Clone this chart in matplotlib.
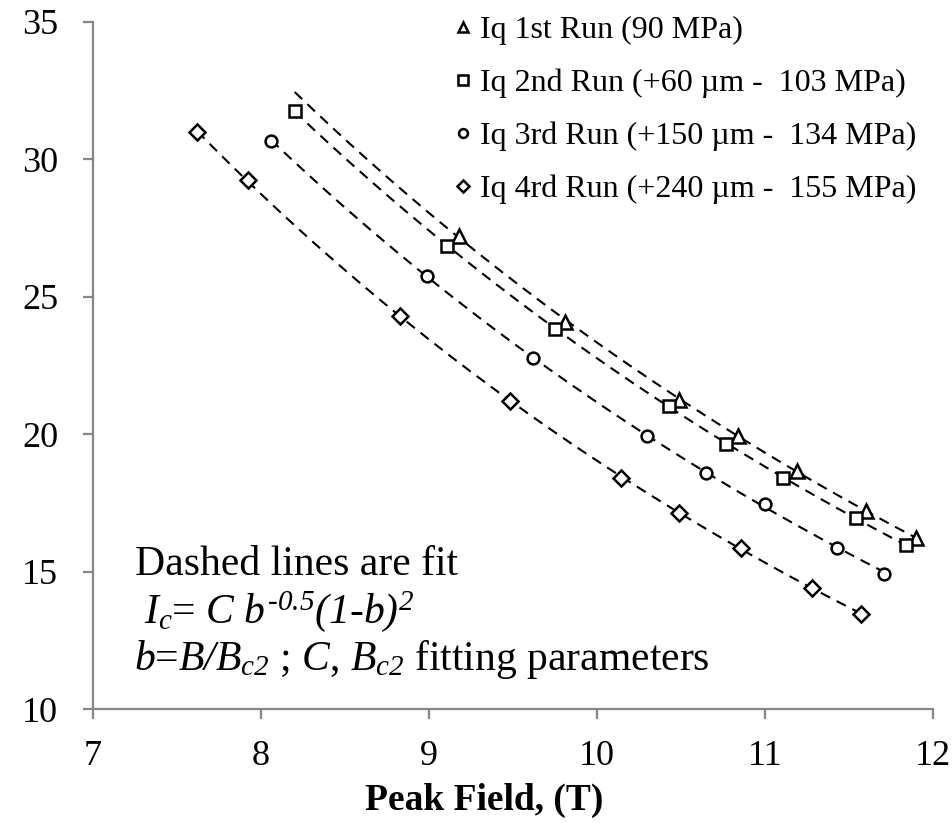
import numpy as np
import matplotlib
matplotlib.use("Agg")
import matplotlib.pyplot as plt

plt.rcParams['font.family'] = ['Liberation Serif', 'DejaVu Serif']
plt.rcParams['mathtext.fontset'] = 'custom'
plt.rcParams['mathtext.rm'] = 'Liberation Serif:italic'
plt.rcParams['mathtext.it'] = 'Liberation Serif:italic'

# peak field (T) and quench current for each run
b_run1 = [9.18, 9.81, 10.49, 10.84, 11.19, 11.60, 11.90]
i_run1 = [27.2, 24.1, 21.26, 19.93, 18.66, 17.21, 16.24]

b_run2 = [8.20, 9.11, 9.75, 10.43, 10.77, 11.11, 11.54, 11.84]
i_run2 = [31.77, 26.83, 23.83, 21.02, 19.65, 18.41, 16.95, 15.97]

b_run3 = [8.06, 8.99, 9.62, 10.30, 10.65, 11.00, 11.43, 11.71]
i_run3 = [30.68, 25.75, 22.78, 19.93, 18.60, 17.45, 15.87, 14.91]

b_run4 = [7.62, 7.92, 8.83, 9.48, 10.14, 10.49, 10.86, 11.28, 11.57]
i_run4 = [30.99, 29.26, 24.29, 21.20, 18.42, 17.14, 15.87, 14.42, 13.45]

labels = ['Iq 1st Run (90 MPa)',
          'Iq 2nd Run (+60 \u00b5m -  103 MPa)',
          'Iq 3rd Run (+150 \u00b5m -  134 MPa)',
          'Iq 4rd Run (+240 \u00b5m -  155 MPa)']
markers = ['^', 's', 'o', 'D']
msizes = [10, 9, 8.5, 8.5]

# x range over which each fit curve is drawn
fit_from = [8.2, 8.2, 8.06, 7.62]


def fit_ic(B, I):
    # Ic = C b^-0.5 (1-b)^2 , b = B/Bc2
    B = np.asarray(B)
    I = np.asarray(I)
    best = None
    for bc2 in np.linspace(12.5, 35, 4501):
        f = (B / bc2) ** -0.5 * (1 - B / bc2) ** 2
        C = f @ I / (f @ f)
        r = ((I - C * f) ** 2).sum()
        if best is None or r < best[0]:
            best = (r, C, bc2)
    return best[1], best[2]


fig = plt.figure(figsize=(9.53, 8.23), dpi=100)
ax = fig.add_axes([0.0976, 0.1385, 0.8814, 0.8348])

runs = [(b_run1, i_run1), (b_run2, i_run2), (b_run3, i_run3), (b_run4, i_run4)]
handles = []
for k, (B, I) in enumerate(runs):
    C, bc2 = fit_ic(B, I)
    xx = np.linspace(fit_from[k], max(B), 200)
    yy = C * (xx / bc2) ** -0.5 * (1 - xx / bc2) ** 2
    ax.plot(xx, yy, color='black', lw=1.5, dashes=(5, 3.5))
    h, = ax.plot(B, I, linestyle='none', marker=markers[k], ms=msizes[k],
                 mfc='white', mec='black', mew=1.8, label=labels[k])
    handles.append(h)

ax.set_xlim(7, 12)
ax.set_ylim(10, 35)
ax.set_xticks([7, 8, 9, 10, 11, 12])
ax.set_yticks([10, 15, 20, 25, 30, 35])

grey = '#868686'
for s in ['top', 'right']:
    ax.spines[s].set_visible(False)
for s in ['left', 'bottom']:
    ax.spines[s].set_color(grey)
    ax.spines[s].set_linewidth(1.6)
ax.tick_params(axis='both', direction='out', length=7, width=1.6, color=grey,
               labelsize=26)
ax.tick_params(axis='y', pad=18)
ax.tick_params(axis='x', pad=15)

ax.set_xlabel('Peak Field, (T)', fontsize=27, fontweight='bold')
ax.xaxis.set_label_coords(0.4655, -0.108)

leg = fig.legend(handles=handles, loc='upper left',
                 bbox_to_anchor=(0.4753, 0.9805), frameon=False,
                 fontsize=23, handlelength=0.6, handletextpad=0.25,
                 labelspacing=0.73, borderpad=0, borderaxespad=0,
                 markerscale=0.75)

ax.text(0.05, 0.195, 'Dashed lines are fit', transform=ax.transAxes,
        fontsize=30)
ax.text(0.061, 0.125, r'$I_c$= $C\ b^{\text{-}0.5}(1\text{-}b)^2$',
        transform=ax.transAxes, fontsize=30)
ax.text(0.049, 0.057, r'$b$=$B/B_{c2}$ ; $C$, $B_{c2}$ fitting parameters',
        transform=ax.transAxes, fontsize=30)

fig.savefig('out.png', dpi=100)
